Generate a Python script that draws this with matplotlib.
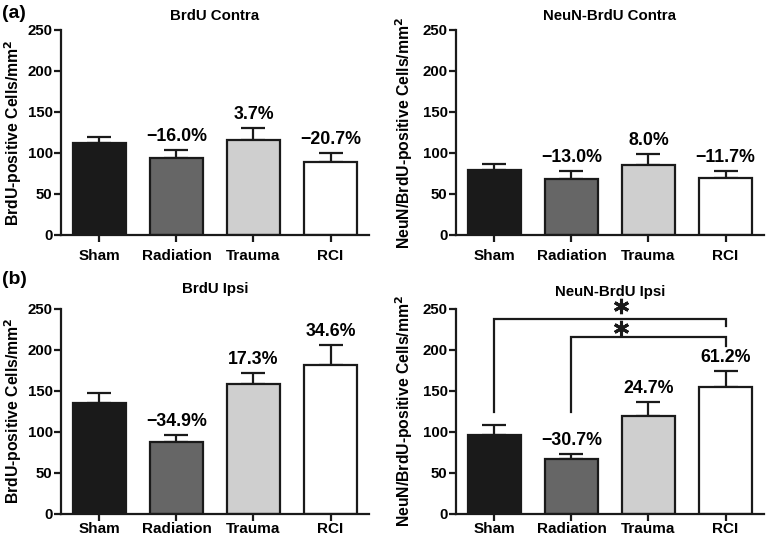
import numpy as np
import matplotlib
matplotlib.use('Agg')
import matplotlib.pyplot as plt

plt.rcParams['font.family'] = ['Liberation Sans', 'DejaVu Sans']
plt.rcParams['font.weight'] = 'bold'
plt.rcParams['axes.titleweight'] = 'bold'
plt.rcParams['axes.labelweight'] = 'bold'

# data
groups = ['Sham', 'Radiation', 'Trauma', 'RCI']
colors = ['#1a1a1a', '#666666', '#cfcfcf', '#ffffff']

brdu_contra = [112.0, 94.1, 116.1, 88.8]
brdu_contra_sem = [8.0, 10.0, 14.5, 11.0]
brdu_contra_pct = ['', '\u221216.0%', '3.7%', '\u221220.7%']

neun_contra = [78.7, 68.5, 85.0, 69.5]
neun_contra_sem = [8.0, 9.5, 13.5, 8.5]
neun_contra_pct = ['', '\u221213.0%', '8.0%', '\u221211.7%']

brdu_ipsi = [134.5, 87.6, 157.8, 181.0]
brdu_ipsi_sem = [12.5, 8.5, 14.0, 25.0]
brdu_ipsi_pct = ['', '\u221234.9%', '17.3%', '34.6%']

neun_ipsi = [95.5, 66.2, 119.1, 154.0]
neun_ipsi_sem = [13.0, 7.0, 17.0, 20.0]
neun_ipsi_pct = ['', '\u221230.7%', '24.7%', '61.2%']

# significance brackets (Sham vs RCI, Radiation vs RCI)
brackets = [(0, 3, 238, 124.5, 228.5), (1, 3, 215, 124.5, 204.5)]
star_x = 1.64
star_y = [253, 226]

fig = plt.figure(figsize=(7.67, 5.36), dpi=100)

W = 0.4016
H = 0.3825
ax1 = fig.add_axes([0.0795, 0.5616, W, H])
ax2 = fig.add_axes([0.5945, 0.5616, W, H])
ax3 = fig.add_axes([0.0795, 0.0416, W, H])
ax4 = fig.add_axes([0.5945, 0.0416, W, H])


def draw_panel(ax, vals, sem, pct, title, ylabel, title_pad, xpad, ylab_x):
    x = np.arange(len(groups))
    ax.errorbar(x, vals, yerr=[np.zeros(len(vals)), sem], fmt='none',
                ecolor='#1a1a1a', elinewidth=1.6, capsize=8.5, capthick=1.6, zorder=1)
    ax.bar(x, vals, width=0.69, color=colors, edgecolor='#1a1a1a',
           linewidth=1.6, zorder=2)
    for xi, v, s, p in zip(x, vals, sem, pct):
        if p:
            ax.annotate(p, (xi, v + s), xytext=(0, 3.5), textcoords='offset points',
                        ha='center', va='bottom', fontsize=12.8, fontweight='bold')
    ax.set_xlim(-0.5, 3.5)
    ax.set_ylim(0, 250)
    ax.set_yticks([0, 50, 100, 150, 200, 250])
    ax.set_xticks(x)
    ax.set_xticklabels(groups, fontsize=11)
    ax.tick_params(axis='y', labelsize=10.8, length=5, width=1.6, pad=1, color='#1a1a1a')
    ax.tick_params(axis='x', length=5, width=1.6, pad=xpad, color='#1a1a1a')
    for s in ['top', 'right']:
        ax.spines[s].set_visible(False)
    for s in ['left', 'bottom']:
        ax.spines[s].set_linewidth(1.6)
        ax.spines[s].set_color('#1a1a1a')
    ax.set_title(title, fontsize=10.8, pad=title_pad)
    ax.set_ylabel(ylabel, fontsize=11.3)
    ax.yaxis.set_label_coords(ylab_x, 0.5)


draw_panel(ax1, brdu_contra, brdu_contra_sem, brdu_contra_pct,
           'BrdU Contra', 'BrdU-positive Cells/mm$^\\mathbf{2}$', 7, 5, -0.12)
draw_panel(ax2, neun_contra, neun_contra_sem, neun_contra_pct,
           'NeuN-BrdU Contra', 'NeuN/BrdU-positive Cells/mm$^\\mathbf{2}$', 7, 5, -0.133)
draw_panel(ax3, brdu_ipsi, brdu_ipsi_sem, brdu_ipsi_pct,
           'BrdU Ipsi', 'BrdU-positive Cells/mm$^\\mathbf{2}$', 11.5, 1, -0.12)
draw_panel(ax4, neun_ipsi, neun_ipsi_sem, neun_ipsi_pct,
           'NeuN-BrdU Ipsi', 'NeuN/BrdU-positive Cells/mm$^\\mathbf{2}$', 9, 1, -0.133)

for (a, b, h, left_bottom, right_bottom), sy in zip(brackets, star_y):
    ax4.plot([a, a, b, b], [left_bottom, h, h, right_bottom], color='#1a1a1a',
             lw=1.6, clip_on=False, solid_joinstyle='miter')
    ax4.plot(star_x, sy, marker=(6, 2, 0), ms=11, mew=2.2, color='#1a1a1a',
             clip_on=False)

fig.text(0.002, 0.99, '(a)', fontsize=14, fontweight='bold', va='top', ha='left')
fig.text(0.002, 0.495, '(b)', fontsize=14, fontweight='bold', va='top', ha='left')

fig.savefig('out.png', dpi=100)
